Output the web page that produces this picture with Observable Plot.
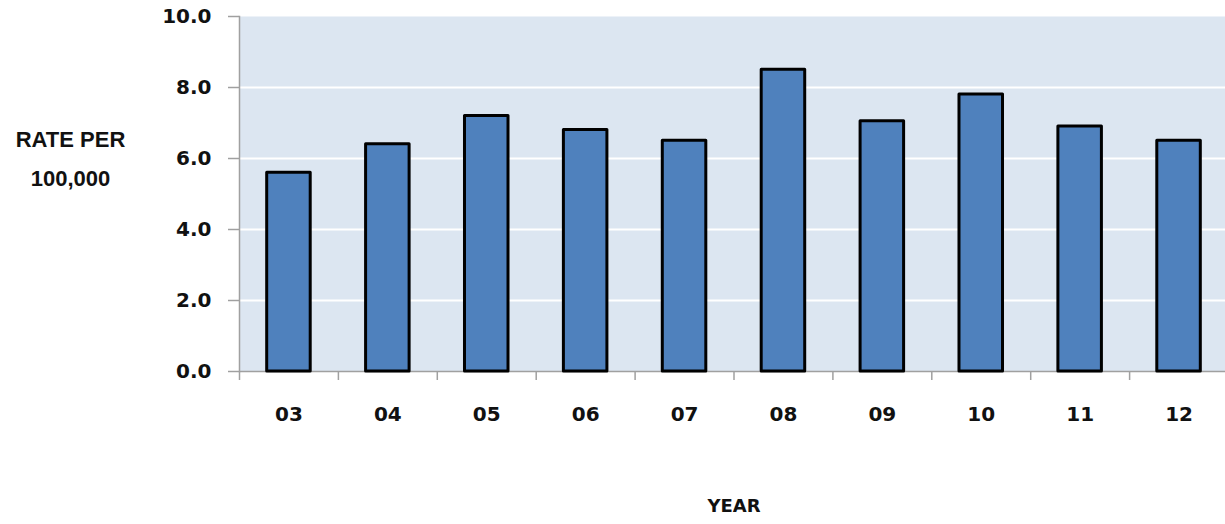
<!DOCTYPE html>
<html><head><meta charset="utf-8">
<script src="https://cdn.jsdelivr.net/npm/d3@7"></script>
<script src="https://cdn.jsdelivr.net/npm/@observablehq/plot@0.6"></script>
<style>body{margin:0;background:#fff}</style>
</head><body><div id="chart"></div>
<script>
const years = ["03","04","05","06","07","08","09","10","11","12"];
const rates = [5.6, 6.4, 7.2, 6.8, 6.5, 8.5, 7.05, 7.8, 6.9, 6.5];
const yTicks = [0, 2, 4, 6, 8, 10];
const gridValues = [2, 4, 6, 8];
const yLabel = "RATE PER\n100,000";
const xLabel = "YEAR";

const data = years.map((year, i) => ({year, rate: rates[i]}));
const axisFont = "'DejaVu Sans', sans-serif";
const step = (1225 + 3 - 239) / years.length;

const chart = Plot.plot({
  width: 1225, height: 524,
  marginLeft: 239, marginRight: -3, marginTop: 16, marginBottom: 153,
  style: {fontFamily: axisFont, background: "white", overflow: "hidden"},
  x: {domain: years, paddingInner: 0.56, paddingOuter: 0.28, round: false, axis: null},
  y: {domain: [0, 10], axis: null},
  marks: [
    Plot.frame({fill: "#dce6f1", stroke: null}),
    Plot.ruleY(gridValues, {stroke: "white", strokeWidth: 2}),
    Plot.frame({anchor: "left", stroke: "#a0a0a0", strokeWidth: 1.5}),
    Plot.ruleY([0], {stroke: "#a0a0a0", strokeWidth: 1.5}),
    Plot.axisY({ticks: yTicks, tickFormat: d => d.toFixed(1), tickSize: 11, tickPadding: 17,
      stroke: "#a0a0a0", fill: "#111", fontSize: 20, fontWeight: "bold", label: null, strokeWidth: 1.5}),
    Plot.axisX({ticks: years, tickSize: 9, tickFormat: () => "", dx: -step / 2,
      stroke: "#a0a0a0", strokeWidth: 1.5, label: null}),
    Plot.axisX({ticks: years, tickSize: 0, tickPadding: 35, fill: "#111",
      fontSize: 20, fontWeight: "bold", label: null}),
    Plot.barY(data, {x: "year", y: "rate", fill: "#4f81bd", stroke: "black",
      strokeWidth: 3, strokeLinejoin: "round"}),
    Plot.text([yLabel], {frameAnchor: "left", dx: -169, dy: -40, lineHeight: 1.75,
      fontSize: 22, fontWeight: "bold", fontFamily: "'Liberation Sans', sans-serif", fill: "#111", textAnchor: "middle"}),
    Plot.text([xLabel], {frameAnchor: "bottom", dy: 140, fontSize: 18, fontWeight: "bold",
      fill: "#111", textAnchor: "middle"})
  ]
});
document.getElementById("chart").appendChild(chart);
</script>
</body></html>
